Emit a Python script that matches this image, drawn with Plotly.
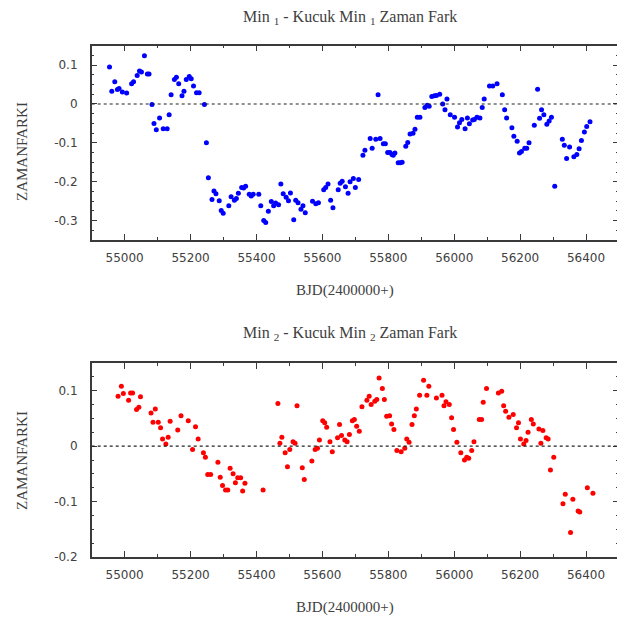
import plotly.graph_objects as go

# ---- data: Min 1 - Kucuk Min 1 (top) ----
bjd1 = [54954, 54961, 54970, 54978, 54983, 54993, 55006, 55021, 55027, 55038, 55045, 55051,
        55060, 55069, 55074, 55083, 55089, 55096, 55106, 55117, 55129, 55135, 55141, 55151,
        55157, 55164, 55174, 55180, 55187, 55196, 55202, 55209, 55218, 55226, 55242, 55248,
        55254, 55265, 55271, 55277, 55287, 55293, 55299, 55316, 55323, 55333, 55339, 55345,
        55355, 55361, 55367, 55378, 55384, 55390, 55407, 55413, 55422, 55428, 55436, 55445,
        55452, 55458, 55467, 55474, 55481, 55490, 55497, 55503, 55513, 55519, 55526, 55535,
        55541, 55548, 55570, 55580, 55588, 55604, 55610, 55617, 55625, 55632, 55648, 55654,
        55660, 55670, 55678, 55684, 55694, 55700, 55710,
        55723, 55729, 55745, 55751, 55762, 55769, 55775, 55785, 55791, 55798, 55805, 55811,
        55815, 55820, 55830, 55836, 55842, 55853, 55859, 55866, 55875, 55881, 55888, 55896,
        55911, 55918, 55924, 55932, 55940, 55946, 55956, 55965, 55972, 55978, 55988, 56001,
        56010, 56016, 56023, 56033, 56040, 56046, 56056, 56061, 56069, 56078, 56085, 56091,
        56107, 56117, 56130, 56146, 56153, 56159, 56175, 56181, 56191, 56198, 56204, 56214,
        56220, 56227, 56243, 56253, 56259, 56265, 56272, 56281, 56288, 56295, 56305, 56328,
        56334, 56341, 56350, 56363, 56372, 56379, 56386, 56395, 56402, 56412]
fark1 = [0.0955, 0.033, 0.057, 0.037, 0.040, 0.031, 0.028, 0.052, 0.057, 0.073, 0.085, 0.082,
         0.124, 0.077, 0.077, -0.001, -0.050, -0.066, -0.036, -0.064, -0.064, -0.028, 0.024, 0.063,
         0.069, 0.052, 0.021, 0.033, 0.063, 0.071, 0.065, 0.046, 0.029, 0.029, -0.001, -0.100,
         -0.190, -0.246, -0.224, -0.231, -0.249, -0.274, -0.281, -0.262, -0.239, -0.248, -0.243, -0.230,
         -0.215, -0.216, -0.212, -0.232, -0.237, -0.232, -0.232, -0.262, -0.300, -0.305, -0.276, -0.251,
         -0.262, -0.255, -0.259, -0.206, -0.231, -0.240, -0.249, -0.229, -0.298, -0.248, -0.254, -0.271,
         -0.262, -0.280, -0.250, -0.257, -0.254, -0.221, -0.215, -0.206, -0.248, -0.267, -0.221, -0.204,
         -0.199, -0.213, -0.230, -0.200, -0.192, -0.215, -0.194,
         -0.132, -0.119, -0.089, -0.114, -0.091, 0.024, -0.089, -0.102, -0.102, -0.125, -0.125, -0.130,
         -0.132, -0.126, -0.151, -0.151, -0.150, -0.109, -0.099, -0.077, -0.075, -0.065, -0.034, -0.034,
         -0.009, -0.003, -0.006, 0.019, 0.021, 0.022, 0.025, 0.000, -0.015, 0.013, -0.028, -0.034,
         -0.059, -0.048, -0.040, -0.064, -0.036, -0.051, -0.041, -0.040, -0.034, -0.036, -0.009, 0.013,
         0.046, 0.046, 0.052, 0.024, -0.015, -0.036, -0.061, -0.083, -0.096, -0.126, -0.122, -0.114,
         -0.114, -0.100, -0.055, 0.038, -0.037, -0.015, -0.028, -0.052, -0.044, -0.034, -0.212, -0.091,
         -0.106, -0.140, -0.111, -0.136, -0.130, -0.115, -0.094, -0.072, -0.058, -0.046]

# ---- data: Min 2 - Kucuk Min 2 (bottom) ----
bjd2 = [54980, 54990, 54996, 55012, 55018, 55024, 55036, 55043, 55048, 55080, 55086, 55093,
        55102, 55109, 55115, 55125, 55132, 55138, 55161, 55171, 55193, 55206, 55215, 55223,
        55239, 55245, 55252, 55261, 55283, 55290, 55297, 55306, 55313, 55320, 55329, 55336,
        55343, 55352, 55358, 55365, 55420, 55465, 55471, 55477, 55487, 55494, 55501, 55511,
        55517, 55523, 55539, 55545, 55568, 55578, 55585, 55591, 55601, 55607, 55613, 55623,
        55630, 55646, 55652, 55658, 55668, 55675, 55682, 55691, 55697, 55704, 55712,
        55720, 55735, 55742, 55748, 55759, 55765, 55772, 55782, 55788, 55795, 55804, 55810,
        55817, 55826, 55839, 55850, 55856, 55863, 55872, 55879, 55885, 55895, 55907, 55917,
        55923, 55946, 55963, 55969, 55975, 55985, 55992, 55998, 56008, 56020, 56031, 56038,
        56044, 56053, 56060, 56076, 56083, 56088, 56098, 56134, 56144, 56150, 56156, 56166,
        56179, 56189, 56195, 56201, 56211, 56218, 56224, 56234, 56240, 56257, 56263, 56269,
        56279, 56285, 56292, 56302, 56330, 56337, 56353, 56360, 56376, 56381, 56404, 56421]
fark2 = [0.090, 0.108, 0.095, 0.083, 0.096, 0.096, 0.066, 0.070, 0.089, 0.060, 0.043, 0.067,
         0.043, 0.033, 0.013, 0.004, 0.016, 0.045, 0.029, 0.055, 0.046, -0.006, 0.035, 0.013,
         -0.012, -0.020, -0.051, -0.051, -0.029, -0.056, -0.071, -0.079, -0.079, -0.040, -0.050, -0.066,
         -0.057, -0.057, -0.081, -0.067, -0.079, 0.077, 0.005, 0.016, -0.012, -0.037, -0.006, 0.008,
         0.005, 0.073, -0.039, -0.060, -0.027, -0.006, -0.004, 0.011, 0.046, 0.042, 0.034, 0.008,
         -0.010, 0.015, 0.039, 0.019, 0.011, 0.008, 0.021, 0.046, 0.048, 0.036, 0.027,
         0.071, 0.083, 0.090, 0.075, 0.081, 0.084, 0.123, 0.104, 0.084, 0.054, 0.055, 0.040,
         0.030, -0.008, -0.010, -0.004, 0.013, 0.007, 0.039, 0.055, 0.067, 0.092, 0.119, 0.092,
         0.108, 0.087, 0.092, 0.073, 0.080, 0.075, 0.051, 0.030, 0.007, -0.012, -0.025, -0.020,
         -0.022, -0.008, 0.008, 0.048, 0.048, 0.079, 0.104, 0.096, 0.099, 0.073, 0.063, 0.052,
         0.057, 0.033, 0.042, 0.013, 0.004, 0.010, 0.025, 0.048, 0.040, 0.031, 0.005, 0.028,
         0.015, 0.013, -0.043, -0.020, -0.104, -0.087, -0.156, -0.096, -0.117, -0.119, -0.075, -0.085]

x_ticks = [55000, 55200, 55400, 55600, 55800, 56000, 56200, 56400]
x_ticktext = ["55000", "55200", "55400", "55600", "55800", "56000", "56200", "56400"]
y1_ticks = [0.1, 0, -0.1, -0.2, -0.3]
y1_ticktext = ["0.1", "0", "-0.1", "-0.2", "-0.3"]
y2_ticks = [0.1, 0, -0.1, -0.2]
y2_ticktext = ["0.1", "0", "-0.1", "-0.2"]
title1 = "Min <sub>1</sub> - Kucuk Min <sub>1</sub> Zaman Fark"
title2 = "Min <sub>2</sub> - Kucuk Min <sub>2</sub> Zaman Fark"
x_title = "BJD(2400000+)"
y_title = "ZAMANFARKI"

# the page body has an 8px default margin: shrink the figure and shift targets
OFF = 8
W, H = 625 - OFF, 621 - OFF
SERIF = "Liberation Serif, Times New Roman, serif"
SANS = "DejaVu Sans, Tahoma, sans-serif"
FRAME = "#3a3a3a"
TXT = "#404040"

def py(p):
    return 1 - (p - OFF) / H

def px(p):
    return (p - OFF) / W

xdom = [px(91.7), px(619)]

fig = go.Figure()
fig.add_trace(go.Scatter(x=bjd1, y=fark1, mode="markers", xaxis="x", yaxis="y",
                         marker=dict(color="#0000ff", size=5, line=dict(width=0)),
                         showlegend=False))
fig.add_trace(go.Scatter(x=bjd2, y=fark2, mode="markers", xaxis="x2", yaxis="y2",
                         marker=dict(color="#ff0000", size=5, line=dict(width=0)),
                         showlegend=False))

def xaxis(anchor):
    return dict(domain=xdom, anchor=anchor, range=[54900, 56500],
                tickvals=x_ticks, ticktext=x_ticktext, automargin=False,
                ticks="inside", ticklen=6, tickcolor=FRAME, tickwidth=1,
                minor=dict(dtick=100, tick0=54900, ticks="inside", ticklen=3, tickcolor=FRAME),
                showline=True, linecolor=FRAME, linewidth=1.5, mirror="allticks",
                showgrid=False, zeroline=False, ticklabelstandoff=6,
                tickfont=dict(family=SANS, size=12, color=TXT))

def yaxis(anchor, dom, rng, tv, tt):
    return dict(domain=dom, anchor=anchor, range=rng, tickvals=tv, ticktext=tt,
                automargin=False,
                ticks="inside", ticklen=6, tickcolor=FRAME, tickwidth=1,
                minor=dict(dtick=0.025, tick0=0, ticks="inside", ticklen=3, tickcolor=FRAME),
                showline=True, linecolor=FRAME, linewidth=1.5, mirror="allticks",
                showgrid=False, zeroline=False, ticklabelstandoff=10,
                tickfont=dict(family=SANS, size=12, color=TXT))

fig.update_layout(
    width=W, height=H, margin=dict(l=0, r=0, t=0, b=0, autoexpand=False),
    paper_bgcolor="white", plot_bgcolor="white",
    xaxis=xaxis("y"),
    yaxis=yaxis("x", [py(240), py(45.7)], [-0.35, 0.15], y1_ticks, y1_ticktext),
    xaxis2=xaxis("y2"),
    yaxis2=yaxis("x2", [py(557), py(363)], [-0.2, 0.15], y2_ticks, y2_ticktext),
)

# dotted zero reference lines
for yref, xref in (("y", "x domain"), ("y2", "x2 domain")):
    fig.add_shape(type="line", xref=xref, yref=yref, x0=0, x1=1, y0=0, y1=0,
                  line=dict(color="#222222", width=1.2, dash="dot"))

cx = px(350)
ann = [
    (title1, cx, py(17), 0, 16),
    (title2, cx, py(334), 0, 16),
    (x_title, px(345), py(290), 0, 15),
    (x_title, px(345), py(607), 0, 15),
    (y_title, px(22), py(152), -90, 15),
    (y_title, px(22), py(461), -90, 15),
]
for text, x, y, ang, fs in ann:
    fig.add_annotation(text=text, x=x, y=y, xref="paper", yref="paper",
                       showarrow=False, textangle=ang, xanchor="center", yanchor="middle",
                       font=dict(family=SERIF, size=fs, color=TXT))

fig.write_html("out.html")
